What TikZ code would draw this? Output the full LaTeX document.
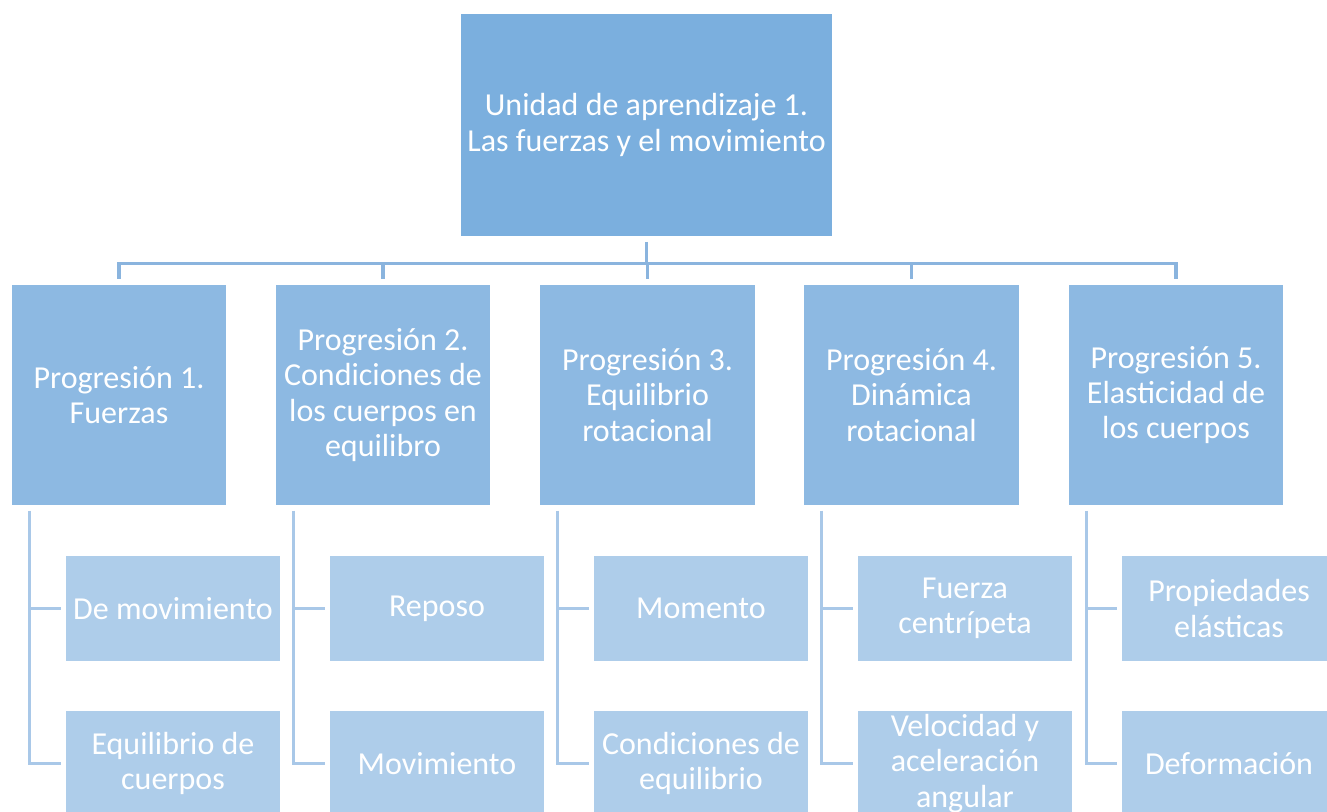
\documentclass[tikz,border=0pt]{standalone}
\usepackage{xcolor}
\usepackage{fontspec}
\setmainfont{Carlito}
\usepackage{tikz}

\definecolor{unitblue}{HTML}{7BAFDE}
\definecolor{progblue}{HTML}{8DB9E2}
\definecolor{topicblue}{HTML}{AECDEA}
\definecolor{linkblue}{HTML}{8AB4DE}
\definecolor{sublinkblue}{HTML}{A9C8E8}

\begin{document}
\begin{tikzpicture}[x=0.01cm, y=-0.01cm,
    box/.style={rectangle, inner sep=0pt, align=center, text=white,
        font=\fontsize{9.1}{10}\selectfont},
    unit/.style={box, fill=unitblue, minimum width=3.71cm, minimum height=2.22cm},
    prog/.style={box, fill=progblue, minimum width=2.14cm, minimum height=2.2cm},
    topic/.style={box, fill=topicblue, minimum width=2.14cm, minimum height=1.05cm},
    link/.style={draw=linkblue, line width=0.9pt},
    sublink/.style={draw=sublinkblue, line width=0.9pt}]
    \clip (0, 0) rectangle (1327, 811);

    \node[unit] at (646.5, 125) (unit) {Unidad de aprendizaje 1.\\Las fuerzas y el movimiento};

    \node[prog] at (119, 395) (p1) {Progresión 1.\\Fuerzas};
    \node[prog] at (383, 395) (p2) {Progresión 2.\\Condiciones de\\los cuerpos en\\equilibro};
    \node[prog] at (647.5, 395) (p3) {Progresión 3.\\Equilibrio\\rotacional};
    \node[prog] at (911.5, 395) (p4) {Progresión 4.\\Dinámica\\rotacional};
    \node[prog] at (1176, 395) (p5) {Progresión 5.\\Elasticidad de\\los cuerpos};

    \node[topic] at (173, 608.5) (a1) {De movimiento};
    \node[topic] at (173, 763.5) (b1) {Equilibrio de\\cuerpos};
    \node[topic] at (437, 608.5) (a2) {Reposo};
    \node[topic] at (437, 763.5) (b2) {Movimiento};
    \node[topic] at (701, 608.5) (a3) {Momento};
    \node[topic] at (701, 763.5) (b3) {Condiciones de\\equilibrio};
    \node[topic] at (965, 608.5) (a4) {Fuerza\\centrípeta};
    \node[topic] at (965, 763.5) (b4) {Velocidad y\\aceleración\\angular};
    \node[topic] at (1229, 608.5) (a5) {Propiedades\\elásticas};
    \node[topic] at (1229, 763.5) (b5) {Deformación};

    % unit to progressions
    \draw[link] ([yshift=-0.05cm]unit.south) -- ++(0, 22) coordinate (bar);
    \draw[link] (bar) -| ([yshift=0.05cm]p1.north);
    \draw[link] (bar) -| ([yshift=0.05cm]p2.north);
    \draw[link] (bar) -| ([yshift=0.05cm]p3.north);
    \draw[link] (bar) -| ([yshift=0.05cm]p4.north);
    \draw[link] (bar) -| ([yshift=0.05cm]p5.north);

    % progressions to topics
    \draw[sublink] ([xshift=0.18cm, yshift=-0.05cm]p1.south west) |- ([xshift=-0.04cm]a1.west);
    \draw[sublink] ([xshift=0.18cm, yshift=-0.05cm]p1.south west) |- ([xshift=-0.04cm]b1.west);
    \draw[sublink] ([xshift=0.18cm, yshift=-0.05cm]p2.south west) |- ([xshift=-0.04cm]a2.west);
    \draw[sublink] ([xshift=0.18cm, yshift=-0.05cm]p2.south west) |- ([xshift=-0.04cm]b2.west);
    \draw[sublink] ([xshift=0.18cm, yshift=-0.05cm]p3.south west) |- ([xshift=-0.04cm]a3.west);
    \draw[sublink] ([xshift=0.18cm, yshift=-0.05cm]p3.south west) |- ([xshift=-0.04cm]b3.west);
    \draw[sublink] ([xshift=0.18cm, yshift=-0.05cm]p4.south west) |- ([xshift=-0.04cm]a4.west);
    \draw[sublink] ([xshift=0.18cm, yshift=-0.05cm]p4.south west) |- ([xshift=-0.04cm]b4.west);
    \draw[sublink] ([xshift=0.18cm, yshift=-0.05cm]p5.south west) |- ([xshift=-0.04cm]a5.west);
    \draw[sublink] ([xshift=0.18cm, yshift=-0.05cm]p5.south west) |- ([xshift=-0.04cm]b5.west);
\end{tikzpicture}
\end{document}
